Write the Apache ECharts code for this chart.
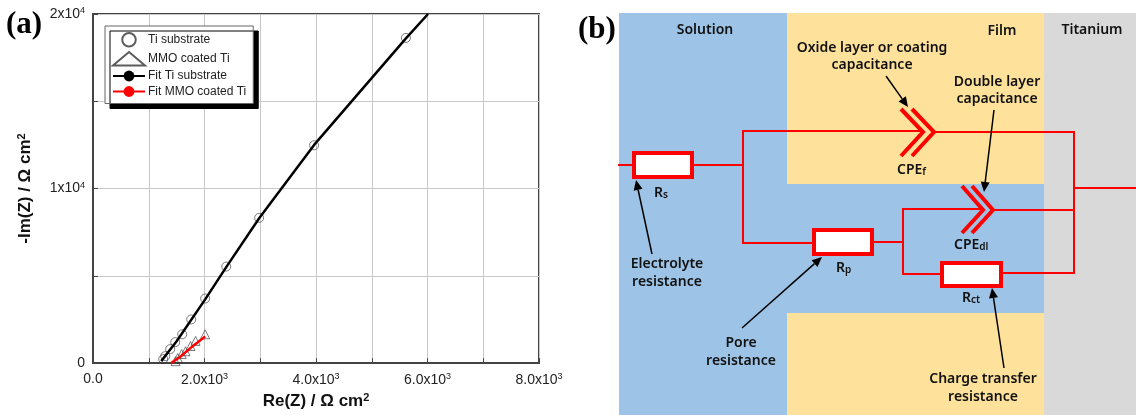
<!DOCTYPE html>
<html><head><meta charset="utf-8">
<style>html,body{margin:0;padding:0;background:#fff}#c{width:1136px;height:415px}</style>
<script src="https://cdn.jsdelivr.net/npm/echarts@6/dist/echarts.min.js"></script>
</head><body><div id="c"></div>
<script>
const tiSubstrate = [[1260,230],[1296,400],[1385,800],[1475,1200],[1600,1650],[1762,2500],[2012,3700],[2390,5530],[2980,8320],[3966,12480],[5613,18630]];
const mmoCoated = [[1480,110],[1520,290],[1590,520],[1660,680],[1750,980],[1840,1270],[2012,1650]];
const fitTi = [[1224,114],[1500,1250],[2012,3650],[2390,5500],[2980,8300],[3966,12500],[5613,18600],[6010,20000]];
const fitMmo = [[1400,0],[1560,350],[1800,1000],[2012,1530]];
const seriesNames = ['Ti substrate','MMO coated Ti','Fit Ti substrate','Fit MMO coated Ti'];

const SUPER = {sup:{fontSize:9,verticalAlign:'bottom',padding:[0,0,7,0],fontFamily:'Liberation Sans',color:'#222'}};
function xLabel(v){ if(v===0) return '0.0'; if(v%2000) return ''; return (v/1000).toFixed(1)+'x10{sup|3}'; }
function yLabel(v){ if(v===0) return '0'; if(v%10000) return ''; return (v/10000)+'x10{sup|4}'; }

const RED='#ff0000', INK='#111';
const FF='"Noto Sans", sans-serif';
function rect(x,y,w,h,fill){return {type:'rect',shape:{x,y,width:w,height:h},style:{fill},silent:true};}
function poly(pts,w,c){return {type:'polyline',shape:{points:pts},style:{stroke:c||RED,lineWidth:w||2,fill:null,lineJoin:'miter'},silent:true};}
function box(x,y,w,h){return {type:'rect',shape:{x:x+2,y:y+2,width:w-4,height:h-4},style:{fill:'#fff',stroke:RED,lineWidth:4},silent:true};}
function txt(x,y,t,align,rich){return {type:'text',x,y,style:{text:t,fill:INK,font:'600 14px '+FF,fontFamily:'Noto Sans',fontSize:14,fontWeight:600,align:align||'center',verticalAlign:'middle',rich:rich||undefined},silent:true};}
function arrow(x1,y1,x2,y2){
  const a=Math.atan2(y2-y1,x2-x1),L=10,W=4.5,bx=x2-L*Math.cos(a),by=y2-L*Math.sin(a),nx=-Math.sin(a),ny=Math.cos(a);
  return [poly([[x1,y1],[bx,by]],1.5,'#000'),
    {type:'polygon',shape:{points:[[x2,y2],[bx+nx*W,by+ny*W],[bx-nx*W,by-ny*W]]},style:{fill:'#000'},silent:true}];
}
function chev(x,yt,ym,yb,dx){return poly([[x,yt],[x+dx,ym],[x,yb]],4);}
const subRich={s:{fontFamily:'Noto Sans',fontSize:10,fontWeight:600,fill:INK,color:INK,verticalAlign:'bottom',padding:[5,0,0,0]},m:{fontFamily:'Noto Sans',fontSize:14,fontWeight:600,color:INK}};

const diagram=[
  rect(619,13,426,402,'#9dc3e6'),
  rect(787,13,257,171,'#fee29b'),
  rect(787,313,257,102,'#fee29b'),
  rect(1044,13,92,402,'#d9d9d9'),
  poly([[618,165],[632,165]]), poly([[694,165],[742,165]]),
  poly([[920,131],[743,131],[743,243],[812,243]]),
  poly([[934,132],[1074,132],[1074,273],[1003,273]]),
  poly([[1074,188],[1136,188]]),
  poly([[874,242],[902,242]]),
  poly([[982,209],[903,209],[903,274],[940,274]]),
  poly([[994,210],[1074,210]]),
  chev(901,109,132,156,22), chev(912,109,132,156,22),
  chev(962,186,210,233,21), chev(972,186,210,233,21),
  box(632,151,62,28), box(812,228,62,28), box(940,261,63,27),
  ...arrow(652,254,636,180), ...arrow(886,76,908,107), ...arrow(994,110,984,192),
  ...arrow(742,328,822,257), ...arrow(1004,368,992,288),
  txt(705,30,'Solution'), txt(1002,31,'Film'), txt(1092,30,'Titanium'),
  txt(872,48,'Oxide layer or coating'), txt(872,65,'capacitance'),
  txt(997,82,'Double layer'), txt(997,99,'capacitance'),
  txt(667,264,'Electrolyte'), txt(667,282,'resistance'),
  txt(741,343,'Pore'), txt(741,361,'resistance'),
  txt(983,379,'Charge transfer'), txt(983,397,'resistance'),
  txt(654,193,'{m|R}{s|s}','left',subRich),
  txt(836,268,'{m|R}{s|p}','left',subRich),
  txt(962,298,'{m|R}{s|ct}','left',subRich),
  txt(897,170,'{m|CPE}{s|f}','left',subRich),
  txt(954,245,'{m|CPE}{s|dl}','left',subRich),
  {type:'text',x:6,y:25,style:{text:'(a)',fontFamily:'Liberation Serif',fontSize:31,fontWeight:'bold',fill:'#000',verticalAlign:'middle'},silent:true},
  {type:'text',x:578,y:30,style:{text:'(b)',fontFamily:'Liberation Serif',fontSize:31,fontWeight:'bold',fill:'#000',verticalAlign:'middle'},silent:true}
];

const chart=echarts.init(document.getElementById('c'));
chart.setOption({
  animation:false,
  backgroundColor:'#fff',
  textStyle:{fontFamily:'Liberation Sans'},
  grid:{left:93,right:597,top:14,bottom:50,show:true,borderColor:'#444',borderWidth:2,backgroundColor:'transparent'},
  legend:{
    left:105,top:26,orient:'vertical',itemGap:3.5,itemWidth:32,itemHeight:13.5,padding:[6,7,6,7],
    backgroundColor:'#fff',borderColor:'#666',borderWidth:1,shadowColor:'#000',shadowOffsetX:5,shadowOffsetY:5,shadowBlur:0,
    textStyle:{fontSize:12,fontFamily:'Liberation Sans',color:'#222',padding:[0,0,0,-2]},
    data:seriesNames
  },
  xAxis:{type:'value',min:0,max:8000,interval:1000,
    name:'Re(Z) / Ω cm{sup|2}',nameLocation:'middle',nameGap:28,
    nameTextStyle:{fontSize:17,fontWeight:'bold',color:'#111',fontFamily:'Liberation Sans',rich:{sup:{fontSize:11,fontWeight:'bold',verticalAlign:'bottom',padding:[0,0,8,0],color:'#111'}}},
    axisLine:{show:true,lineStyle:{color:'#444',width:2}},
    axisTick:{show:true,inside:true,length:5,lineStyle:{color:'#444',width:1}},
    splitLine:{show:true,lineStyle:{color:'#c8c8c8',width:1}},
    axisLabel:{fontSize:14,color:'#222',margin:9,formatter:xLabel,rich:SUPER,hideOverlap:false,showMaxLabel:true,showMinLabel:true}},
  yAxis:{type:'value',min:0,max:20000,interval:5000,
    name:'-Im(Z) / Ω cm{sup|2}',nameLocation:'middle',nameGap:58,
    nameTextStyle:{fontSize:17,fontWeight:'bold',color:'#111',fontFamily:'Liberation Sans',rich:{sup:{fontSize:11,fontWeight:'bold',verticalAlign:'bottom',padding:[0,0,8,0],color:'#111'}}},
    axisLine:{show:true,lineStyle:{color:'#444',width:2}},
    axisTick:{show:true,inside:true,length:5,lineStyle:{color:'#444',width:1}},
    splitLine:{show:true,lineStyle:{color:'#c8c8c8',width:1}},
    axisLabel:{fontSize:14,color:'#222',margin:8,formatter:yLabel,rich:SUPER,hideOverlap:false}},
  series:[
    {name:seriesNames[0],type:'scatter',data:tiSubstrate,symbol:'circle',symbolSize:9,itemStyle:{color:'rgba(255,255,255,0)',borderColor:'#333',borderWidth:0.8},z:5},
    {name:seriesNames[1],type:'scatter',data:mmoCoated,symbol:'triangle',symbolSize:9,itemStyle:{color:'rgba(255,255,255,0)',borderColor:'#333',borderWidth:0.8},z:5},
    {name:seriesNames[2],type:'line',data:fitTi,showSymbol:false,symbol:'none',smooth:false,lineStyle:{color:'#000',width:2.5},itemStyle:{color:'#000'},z:6},
    {name:seriesNames[3],type:'line',data:fitMmo,showSymbol:false,symbol:'none',smooth:false,lineStyle:{color:'#ff0000',width:2.5},itemStyle:{color:'#ff0000'},z:6}
  ],
  graphic:{elements:diagram}
});
</script></body></html>
